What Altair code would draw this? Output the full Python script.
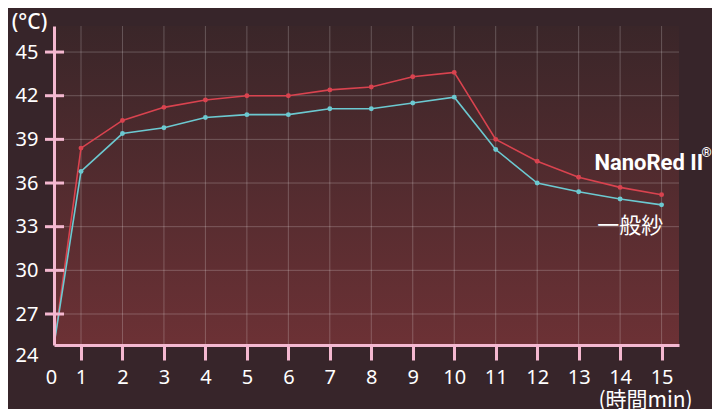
import altair as alt
import pandas as pd

# ---- data ----
minutes = list(range(16))
nanored = [24, 38.4, 40.3, 41.2, 41.7, 42.0, 42.0, 42.4, 42.6, 43.3, 43.6, 39.0, 37.5, 36.4, 35.7, 35.2]
regular = [24, 36.8, 39.4, 39.8, 40.5, 40.7, 40.7, 41.1, 41.1, 41.5, 41.9, 38.3, 36.0, 35.4, 34.9, 34.5]
series_names = ["NanoRed II", "一般紗"]
x_ticks = list(range(16))
y_ticks = [24, 27, 30, 33, 36, 39, 42, 45]
ann_minute = [13.38, 13.45]
ann_temp = [37.35, 33.05]

PINK = "#f4b8d0"
RED = "#d9434f"
CYAN = "#6cc9d1"
FONT = "Noto Sans, Noto Sans CJK JP"
CJK = "Noto Sans CJK JP"

df = pd.DataFrame({
    "minute": minutes * 2,
    "temp": nanored + regular,
    "series": [series_names[0]] * len(minutes) + [series_names[1]] * len(minutes),
})
df_xgrid = pd.DataFrame({"minute": x_ticks[1:]})
df_ygrid = pd.DataFrame({"temp": y_ticks[1:]})
df_ann = pd.DataFrame({"minute": ann_minute, "temp": ann_temp, "label": series_names})

xscale = alt.Scale(domain=[0, 1, 15.42], range=[0, 27, 625], nice=False, zero=False)
yscale = alt.Scale(domain=[24, 27, 46.79], range=[319, 288, 0], nice=False, zero=False)

x_axis = alt.Axis(
    values=x_ticks, title="(時間min)", titleX=591, titleY=55, titleAlign="center",
    titleBaseline="middle", titleFont=CJK, titleFontSize=21, titleFontWeight="normal",
    titleColor="white", labelColor="white", labelFont=FONT, labelFontSize=20,
    labelPadding=7, tickSize=15, tickWidth=3, tickColor=PINK,
    tickOpacity={"condition": {"test": "datum.value == 0", "value": 0}, "value": 1},
    labelOffset={"condition": {"test": "datum.value == 0", "value": -3}, "value": 0},
    domainColor=PINK, domainWidth=3, grid=False, zindex=1, labelFlush=False,
    labelOverlap=False,
)
y_axis = alt.Axis(
    values=y_ticks, title="(°C)", titleAngle=0, titleX=-25, titleY=-4, titleAlign="center",
    titleBaseline="middle", titleFont=FONT, titleFontSize=21, titleFontWeight=500,
    titleColor="white", labelColor="white", labelFont=FONT, labelFontSize=20,
    labelPadding=16, ticks=False, tickSize=0, domainColor=PINK, domainWidth=3,
    grid=False, zindex=1, labelOverlap=False, labelFlush=False,
    labelBaseline={"condition": {"test": "datum.value == 24", "value": "top"}, "value": "middle"},
)

X = lambda: alt.X("minute:Q", scale=xscale, axis=x_axis)
Y = lambda: alt.Y("temp:Q", scale=yscale, axis=y_axis)

bg = alt.Chart(df).mark_rect(
    fill=alt.Gradient(
        gradient="linear",
        stops=[alt.GradientStop(color="#3a2629", offset=0),
               alt.GradientStop(color="#6c3135", offset=1)],
        x1=0, x2=0, y1=0, y2=1,
    )
).encode(x=alt.value(0), x2=alt.value("width"), y=alt.value(0), y2=alt.value("height"))

xgrid = alt.Chart(df_xgrid).mark_rule(color="white", opacity=0.22, strokeWidth=1).encode(x=X())
ygrid = alt.Chart(df_ygrid).mark_rule(color="white", opacity=0.22, strokeWidth=1).encode(y=Y())

color = alt.Color("series:N", scale=alt.Scale(domain=series_names, range=[RED, CYAN]), legend=None)

lines = alt.Chart(df).mark_line(strokeWidth=1.6).encode(x=X(), y=Y(), color=color, detail="series:N")
points = alt.Chart(df).transform_filter("datum.minute > 0").mark_circle(size=24, opacity=1).encode(
    x=X(), y=Y(), color=color)

yticks = alt.Chart(df_ygrid).mark_rule(color=PINK, strokeWidth=3).encode(
    y=Y(), x=alt.value(-9), x2=alt.value(10))

first = f"datum.label == '{series_names[0]}'"
second = f"datum.label == '{series_names[1]}'"
ann_main = alt.Chart(df_ann).transform_filter(first).mark_text(
    align="left", baseline="middle", fontSize=22, fontWeight="bold", color="white", font="Roboto"
).encode(x=X(), y=Y(), text="label:N")
ann_reg = alt.Chart(df_ann).transform_filter(first).mark_text(
    align="left", baseline="middle", fontSize=13, fontWeight="bold", color="white", font="Roboto",
    dx=107, dy=-10
).encode(x=X(), y=Y(), text=alt.value("®"))
ann_second = alt.Chart(df_ann).transform_filter(second).mark_text(
    align="left", baseline="middle", fontSize=22, fontWeight="normal", color="white", font=CJK
).encode(x=X(), y=Y(), text="label:N")

chart = alt.layer(bg, xgrid, ygrid, lines, points, yticks, ann_main, ann_reg, ann_second).properties(
    width=625, height=319,
    autosize=alt.AutoSizeParams(type="none"),
    padding={"left": 46, "top": 18, "right": 33, "bottom": 64},
    background="#37252a",
).configure_view(stroke=None)

chart.save("out.html", embed_options={"renderer": "svg", "actions": False})
